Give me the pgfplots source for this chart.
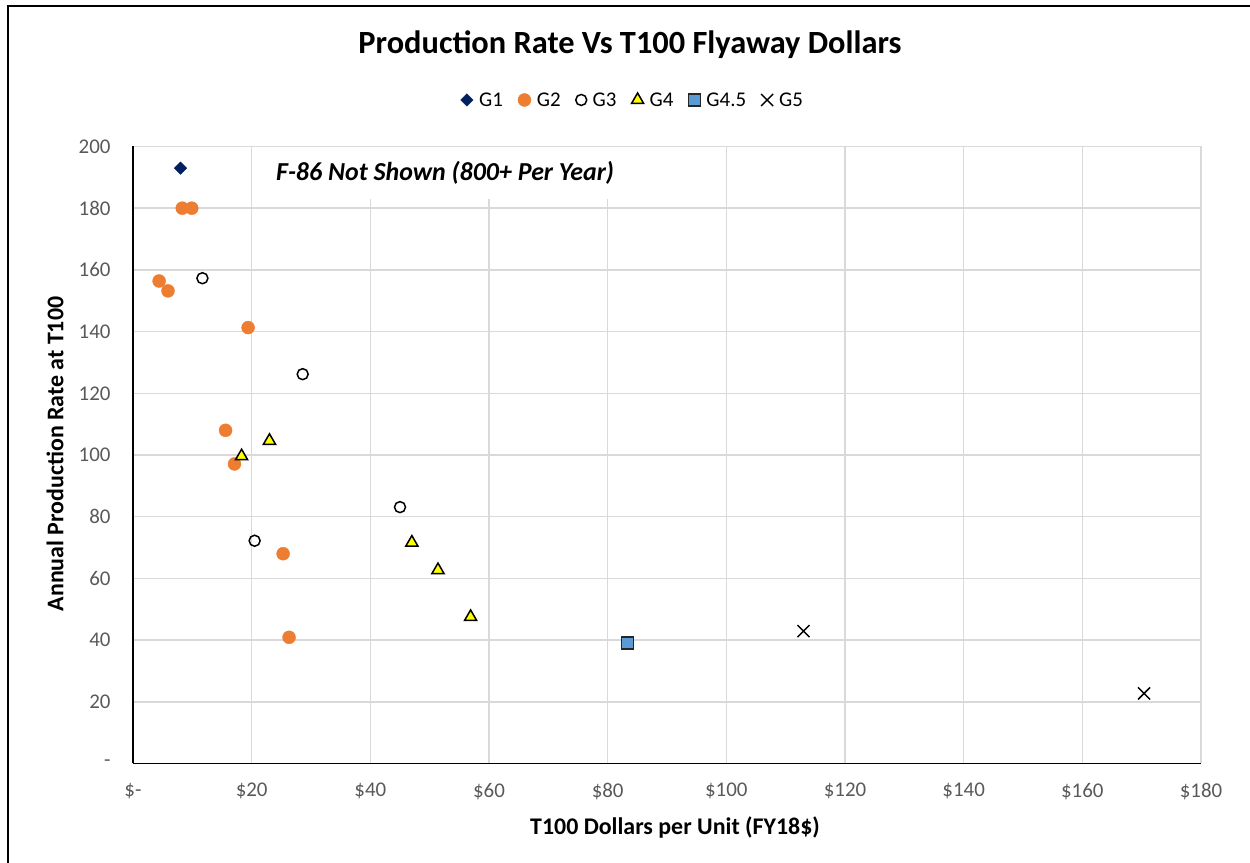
\documentclass[border=0pt]{standalone}
\usepackage{pgfplots}
\pgfplotsset{compat=1.18}
\usepackage{fontspec}
\setmainfont{Carlito}
\definecolor{gridc}{HTML}{D9D9D9}
\definecolor{gone}{HTML}{002060}
\definecolor{gtwo}{HTML}{ED7D31}
\definecolor{gfour}{HTML}{FFFF00}
\definecolor{gfourfive}{HTML}{5B9BD5}
\definecolor{tickc}{HTML}{595959}
\begin{document}
\begin{tikzpicture}[x=1bp,y=1bp]
\useasboundingbox (0,0) rectangle (1250,863);
\draw[line width=2bp,black] (7.5,0) -- (7.5,856.5) -- (1250,856.5);
\node[font=\fontsize{32.5}{38}\selectfont\bfseries] at (630,818) {Production Rate Vs T100 Flyaway Dollars};
\node[font=\fontsize{24}{28}\selectfont\bfseries] at (675,35) {T100 Dollars per Unit (FY18\$)};
\node[font=\fontsize{24}{28}\selectfont\bfseries, rotate=90] at (55,409) {Annual Production Rate at T100};
\begin{axis}[
  at={(133bp,99.5bp)}, anchor=south west,
  scale only axis, width=1068bp, height=617bp,
  xmin=0, xmax=180, ymin=0, ymax=200,
  enlargelimits=false,
  axis x line=bottom, axis y line=left,
  axis line style={-, black, line width=1.5bp},
  xtick={0,20,...,180}, ytick={0,20,...,200},
  xticklabels={\$-,\$20,\$40,\$60,\$80,\$100,\$120,\$140,\$160,\$180},
  yticklabels={-\hspace{0.4em},20,40,60,80,100,120,140,160,180,200},
  major tick length=0pt,
  grid=major,
  major grid style={color=gridc, line width=1.5bp},
  ticklabel style={font=\fontsize{21}{25}\selectfont, text=tickc},
  xticklabel style={yshift=-16bp},
  yticklabel style={xshift=-19bp},
  legend columns=6,
  legend image code/.code={\draw[#1] plot coordinates {(0bp,0bp)};},
  legend style={at={(0.468,1.0754)}, anchor=center, draw=none, fill=none,
    font=\fontsize{21}{25}\selectfont, text=black,
    /tikz/every even column/.append style={column sep=13bp},
    /tikz/every odd column/.append style={column sep=4bp}},
  legend cell align=left,
]
\addplot[only marks, mark=square*, mark size=4.4bp, color=gone, mark options={fill=gone, rotate=45}]
 coordinates {(8.0,193)};
\addlegendentry{G1}
\addplot[only marks, mark=*, mark size=6.5bp, color=gtwo, mark options={fill=gtwo, draw=gtwo}]
 coordinates {(8.3,180) (9.9,180) (4.4,156.4) (5.9,153.2) (19.4,141.3) (15.6,108) (17.1,97.1) (25.3,68) (26.3,40.9)};
\addlegendentry{G2}
\addplot[only marks, mark=o, mark size=5.5bp, color=black, line width=1.5bp, mark options={fill=white}]
 coordinates {(11.7,157.3) (28.6,126.2) (20.5,72.2) (45.0,83.1)};
\addlegendentry{G3}
\addplot[only marks, mark=triangle*, mark size=7bp, color=black, line width=1.5bp, mark options={fill=gfour}]
 coordinates {(23.0,104.6) (18.3,99.6) (47.0,71.6) (51.4,62.7) (56.9,47.5)};
\addlegendentry{G4}
\addplot[only marks, mark=square*, mark size=6bp, color=black!85, line width=1.5bp, mark options={fill=gfourfive}]
 coordinates {(83.3,39)};
\addlegendentry{G4.5}
\addplot[only marks, mark=x, mark size=8.5bp, color=black, line width=1.5bp]
 coordinates {(113.0,42.9) (170.4,22.7)};
\addlegendentry{G5}
\node[fill=white, inner xsep=12bp, minimum height=52bp, font=\fontsize{26}{30}\selectfont\bfseries\itshape] at (axis cs:52.6,191.5) {F-86 Not Shown (800+ Per Year)};
\end{axis}
\end{tikzpicture}
\end{document}
